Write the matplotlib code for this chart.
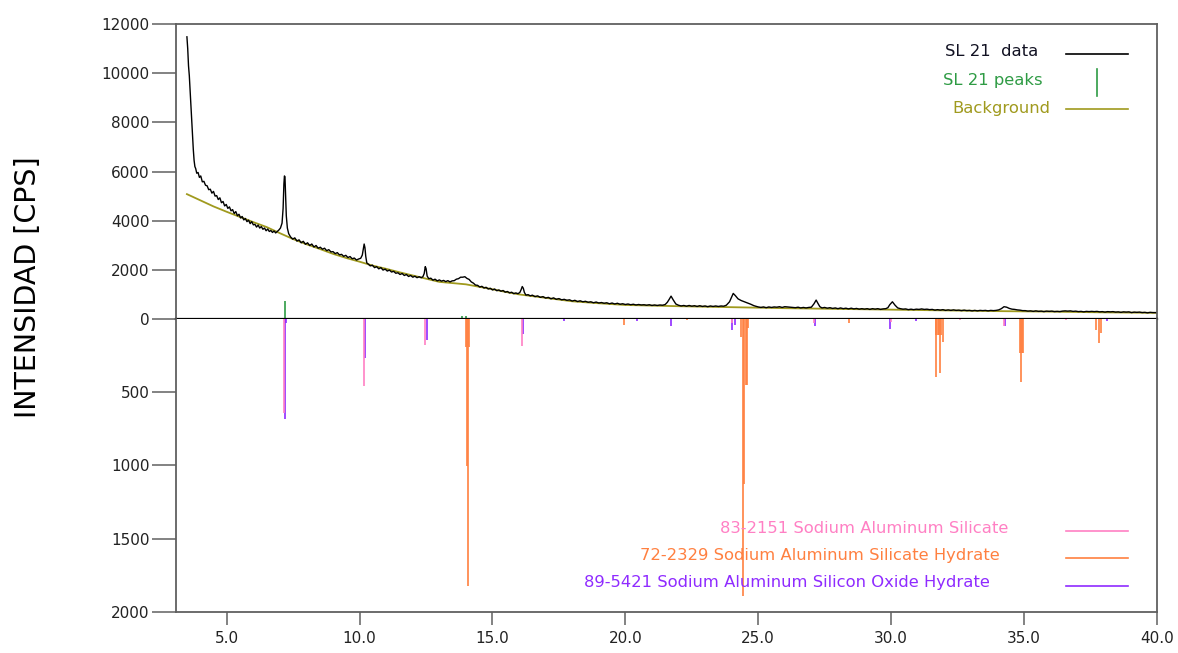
import matplotlib
matplotlib.use('Agg')
import matplotlib.pyplot as plt
from matplotlib.ticker import FormatStrFormatter

# measured scan of sample SL 21 (2-theta, counts)
two_theta = [
    3.50, 3.53, 3.56, 3.59, 3.62, 3.65, 3.68, 3.71, 3.74, 3.77,
    3.80, 3.83, 3.87, 3.92, 3.97, 4.02, 4.08, 4.14, 4.20, 4.26,
    4.32, 4.38, 4.44, 4.50, 4.56, 4.62, 4.68, 4.74, 4.80, 4.86,
    4.92, 4.98, 5.04, 5.10, 5.16, 5.22, 5.28, 5.34, 5.40, 5.46,
    5.52, 5.58, 5.64, 5.70, 5.76, 5.82, 5.88, 5.94, 6.00, 6.06,
    6.12, 6.18, 6.24, 6.30, 6.36, 6.42, 6.48, 6.54, 6.60, 6.66,
    6.72, 6.78, 6.84, 6.90, 6.96, 7.02, 7.08, 7.12, 7.15, 7.17,
    7.19, 7.21, 7.24, 7.28, 7.33, 7.40, 7.48, 7.56, 7.64, 7.72,
    7.80, 7.88, 7.96, 8.04, 8.12, 8.20, 8.28, 8.36, 8.44, 8.52,
    8.60, 8.68, 8.76, 8.84, 8.92, 9.00, 9.08, 9.16, 9.24, 9.32,
    9.40, 9.48, 9.56, 9.64, 9.72, 9.80, 9.88, 9.96, 10.04, 10.10,
    10.14, 10.17, 10.20, 10.23, 10.27, 10.32, 10.40, 10.48, 10.56, 10.64,
    10.72, 10.80, 10.88, 10.96, 11.04, 11.12, 11.20, 11.28, 11.36, 11.44,
    11.52, 11.60, 11.68, 11.76, 11.84, 11.92, 12.00, 12.08, 12.16, 12.24,
    12.32, 12.38, 12.43, 12.47, 12.50, 12.54, 12.60, 12.68, 12.76, 12.84,
    12.92, 13.00, 13.08, 13.16, 13.24, 13.32, 13.40, 13.48, 13.56, 13.64,
    13.72, 13.80, 13.88, 13.96, 14.04, 14.12, 14.20, 14.28, 14.36, 14.44,
    14.52, 14.60, 14.68, 14.76, 14.84, 14.92, 15.00, 15.08, 15.16, 15.24,
    15.32, 15.40, 15.48, 15.56, 15.64, 15.72, 15.80, 15.88, 15.96, 16.03,
    16.08, 16.12, 16.16, 16.20, 16.26, 16.34, 16.42, 16.50, 16.60, 16.70,
    16.80, 16.90, 17.00, 17.10, 17.20, 17.30, 17.40, 17.50, 17.60, 17.70,
    17.80, 17.90, 18.00, 18.10, 18.20, 18.30, 18.40, 18.50, 18.60, 18.70,
    18.80, 18.90, 19.00, 19.10, 19.20, 19.30, 19.40, 19.50, 19.60, 19.70,
    19.80, 19.90, 20.00, 20.10, 20.20, 20.30, 20.40, 20.50, 20.60, 20.70,
    20.80, 20.90, 21.00, 21.10, 21.20, 21.30, 21.40, 21.50, 21.58, 21.65,
    21.72, 21.80, 21.90, 22.00, 22.10, 22.20, 22.30, 22.40, 22.50, 22.60,
    22.70, 22.80, 22.90, 23.00, 23.10, 23.20, 23.30, 23.40, 23.50, 23.60,
    23.70, 23.80, 23.92, 24.00, 24.06, 24.14, 24.24, 24.36, 24.48, 24.60,
    24.72, 24.84, 25.00, 25.10, 25.20, 25.30, 25.40, 25.50, 25.60, 25.70,
    25.80, 25.90, 26.00, 26.10, 26.20, 26.30, 26.40, 26.50, 26.60, 26.70,
    26.80, 26.90, 27.00, 27.10, 27.18, 27.24, 27.32, 27.40, 27.50, 27.60,
    27.70, 27.80, 27.90, 28.00, 28.10, 28.20, 28.30, 28.40, 28.50, 28.60,
    28.70, 28.80, 28.90, 29.00, 29.10, 29.20, 29.30, 29.40, 29.50, 29.60,
    29.70, 29.80, 29.88, 29.95, 30.05, 30.15, 30.25, 30.35, 30.45, 30.55,
    30.65, 30.75, 30.85, 30.95, 31.05, 31.15, 31.25, 31.35, 31.45, 31.55,
    31.65, 31.75, 31.85, 31.95, 32.05, 32.15, 32.25, 32.35, 32.45, 32.55,
    32.65, 32.75, 32.85, 32.95, 33.05, 33.15, 33.25, 33.35, 33.45, 33.55,
    33.65, 33.75, 33.85, 33.95, 34.05, 34.15, 34.25, 34.35, 34.45, 34.55,
    34.65, 34.75, 34.85, 34.95, 35.05, 35.15, 35.25, 35.35, 35.45, 35.55,
    35.65, 35.75, 35.85, 35.95, 36.05, 36.15, 36.25, 36.35, 36.45, 36.55,
    36.65, 36.75, 36.85, 36.95, 37.05, 37.15, 37.25, 37.35, 37.45, 37.55,
    37.65, 37.75, 37.85, 37.95, 38.05, 38.15, 38.25, 38.35, 38.45, 38.55,
    38.65, 38.75, 38.85, 38.95, 39.05, 39.15, 39.25, 39.35, 39.45, 39.55,
    39.65, 39.75, 39.85, 40.00,
]
counts = [
    11480, 11000, 10300, 9900, 9300, 8650, 8100, 7500, 6900, 6450,
    6200, 6120, 5930, 5960, 5760, 5820, 5580, 5600, 5440, 5420,
    5260, 5280, 5120, 5190, 5000, 5020, 4860, 4930, 4730, 4780,
    4600, 4660, 4500, 4560, 4400, 4450, 4290, 4370, 4200, 4260,
    4110, 4170, 4030, 4090, 3960, 4020, 3880, 3960, 3830, 3850,
    3740, 3820, 3700, 3760, 3650, 3700, 3590, 3660, 3560, 3600,
    3520, 3580, 3500, 3560, 3620, 3700, 3900, 4500, 5500, 5820,
    5780, 5100, 4200, 3700, 3470, 3340, 3250, 3300, 3170, 3220,
    3100, 3160, 3040, 3100, 2990, 3050, 2930, 2990, 2880, 2920,
    2840, 2880, 2780, 2820, 2730, 2740, 2660, 2700, 2610, 2630,
    2550, 2590, 2500, 2540, 2450, 2480, 2400, 2440, 2470, 2600,
    2850, 3050, 2900, 2550, 2280, 2240, 2160, 2190, 2090, 2130,
    2040, 2090, 1990, 2030, 1950, 1990, 1910, 1940, 1860, 1880,
    1810, 1850, 1770, 1810, 1730, 1770, 1700, 1740, 1680, 1720,
    1680, 1720, 1850, 2130, 2050, 1750, 1640, 1660, 1580, 1620,
    1550, 1590, 1540, 1570, 1520, 1560, 1510, 1550, 1560, 1620,
    1640, 1700, 1700, 1720, 1650, 1610, 1510, 1460, 1380, 1370,
    1300, 1330, 1260, 1290, 1220, 1250, 1180, 1220, 1150, 1180,
    1130, 1160, 1090, 1120, 1060, 1090, 1030, 1060, 1030, 1080,
    1200, 1320, 1250, 1080, 970, 990, 940, 970, 910, 940,
    880, 910, 850, 880, 820, 860, 800, 830, 780, 800,
    760, 780, 730, 760, 710, 740, 700, 720, 680, 700,
    660, 690, 650, 670, 640, 660, 620, 650, 610, 640,
    600, 620, 590, 610, 580, 600, 570, 590, 570, 580,
    560, 580, 550, 570, 550, 570, 560, 590, 680, 800,
    930, 780, 610, 560, 530, 550, 520, 550, 520, 540,
    510, 540, 510, 530, 500, 530, 510, 530, 510, 530,
    520, 560, 700, 900, 1040, 950, 820, 750, 700, 650,
    600, 540, 490, 470, 490, 460, 490, 470, 490, 480,
    500, 470, 500, 490, 480, 470, 460, 480, 450, 470,
    450, 470, 480, 620, 770, 650, 500, 450, 470, 440,
    460, 430, 450, 420, 450, 420, 440, 410, 440, 410,
    430, 400, 420, 400, 420, 390, 420, 400, 420, 390,
    410, 420, 460, 580, 700, 560, 450, 420, 400, 410,
    380, 400, 380, 400, 390, 410, 390, 400, 380, 390,
    360, 380, 360, 380, 350, 370, 350, 370, 350, 360,
    340, 360, 340, 350, 330, 350, 330, 350, 340, 350,
    330, 350, 340, 350, 370, 420, 500, 480, 430, 400,
    390, 370, 360, 340, 340, 320, 330, 310, 330, 310,
    320, 300, 320, 310, 320, 300, 310, 300, 320, 330,
    320, 330, 310, 320, 300, 310, 290, 310, 300, 310,
    300, 310, 290, 300, 280, 300, 290, 300, 280, 290,
    270, 290, 280, 290, 260, 280, 270, 280, 260, 270,
    250, 270, 260, 260,
]

# fitted background
bg_theta = [3.5, 4.0, 4.5, 5.0, 5.5, 6.0, 6.5, 7.0, 7.5, 8.0, 8.5, 9.0, 9.5,
            10.0, 10.5, 11.0, 11.5, 12.0, 12.5, 13.0, 13.5, 14.0, 14.5, 15.0,
            15.5, 16.0, 16.5, 17.0, 17.5, 18.0, 19.0, 20.0, 22.0, 24.0, 26.0,
            28.0, 30.0, 32.0, 34.0, 36.0, 38.0, 40.0]
bg_counts = [5080, 4830, 4580, 4360, 4150, 3940, 3740, 3490, 3250, 3040, 2850,
             2650, 2480, 2330, 2170, 2040, 1900, 1770, 1640, 1510, 1460, 1410,
             1310, 1210, 1100, 1000, 930, 860, 790, 720, 640, 570, 520, 480,
             440, 410, 380, 350, 320, 300, 270, 250]

# peaks found in SL 21
peak_theta = [7.20, 13.86, 14.00, 24.30]
peak_height = [720, 120, 120, 40]

# reference patterns (intensity drawn downwards)
pdf_2151_theta = [7.17, 10.16, 12.47, 16.11, 24.00, 27.10, 30.00, 32.60, 34.25, 36.60]
pdf_2151_int = [640, 460, 175, 185, 30, 25, 20, 10, 45, 10]

pdf_2329_theta = [14.01, 14.04, 14.07, 14.13, 19.94, 22.32, 24.37, 24.42, 24.45,
                  24.55, 24.58, 24.62, 28.42, 31.68, 31.70, 31.76, 31.80, 31.84,
                  31.89, 31.94, 34.86, 34.90, 34.94, 34.98, 37.71, 37.81, 37.90]
pdf_2329_int = [190, 1005, 1822, 190, 40, 10, 121, 1890, 1123,
                452, 452, 60, 25, 110, 395, 110, 110, 367,
                110, 155, 233, 430, 233, 233, 75, 167, 96]

pdf_5421_theta = [7.19, 7.24, 10.20, 12.53, 16.14, 17.68, 20.44, 21.72, 24.02,
                  24.12, 27.15, 29.97, 30.93, 34.28, 38.12]
pdf_5421_int = [685, 30, 265, 145, 100, 12, 15, 50, 75, 40, 45, 65, 12, 50, 15]

x_ticks = [5, 10, 15, 20, 25, 30, 35, 40]
top_ticks = [0, 2000, 4000, 6000, 8000, 10000, 12000]
bottom_ticks = [500, 1000, 1500, 2000]

c_data = 'black'
c_bg = '#a09a1e'
c_peak = '#2e9b44'
c_pink = '#ff80c4'
c_orange = '#ff8040'
c_purple = '#8f2bff'
frame = '#606060'

fig = plt.figure(figsize=(11.78, 6.53), dpi=100)
ax_top = fig.add_axes([0.1492, 0.5115, 0.8328, 0.4517])
ax_bot = fig.add_axes([0.1492, 0.0628, 0.8328, 0.4487], sharex=ax_top)

# upper panel: scan, background, peak marks
ax_top.plot(bg_theta, bg_counts, color=c_bg, lw=1.3)
ax_top.plot(two_theta, counts, color=c_data, lw=1.0)
ax_top.vlines(peak_theta, 0, peak_height, color=c_peak, lw=1.2)
ax_top.set_ylim(0, 12000)
ax_top.set_yticks(top_ticks)
ax_top.tick_params(axis='x', bottom=False, labelbottom=False)

# lower panel: reference sticks
ax_bot.vlines(pdf_2329_theta, 0, pdf_2329_int, color=c_orange, lw=1.2)
ax_bot.vlines(pdf_5421_theta, 0, pdf_5421_int, color=c_purple, lw=1.2)
ax_bot.vlines(pdf_2151_theta, 0, pdf_2151_int, color=c_pink, lw=1.2)
ax_bot.set_ylim(2000, 0)
ax_bot.set_yticks(bottom_ticks)
ax_bot.set_xlim(3.08, 40)
ax_bot.set_xticks(x_ticks)
ax_bot.xaxis.set_major_formatter(FormatStrFormatter('%.1f'))

for ax in (ax_top, ax_bot):
    for s in ax.spines.values():
        s.set_color(frame)
        s.set_linewidth(1.3)
    ax.tick_params(axis='y', direction='out', length=17, width=1.1,
                   color=frame, pad=2, labelsize=11, labelcolor='#222222')
ax_top.spines['bottom'].set_color('black')
ax_top.spines['bottom'].set_linewidth(1.6)
ax_bot.spines['top'].set_visible(False)
ax_bot.tick_params(axis='x', direction='out', length=9, width=1.1,
                   color=frame, pad=5, labelsize=11, labelcolor='#222222')

fig.text(0.024, 0.56, 'INTENSIDAD [CPS]', rotation=90, fontsize=20.5,
         ha='center', va='center', color='black')

# key, upper panel
tr = ax_top.transAxes
ax_top.text(0.879, 0.906, 'SL 21  data', transform=tr, ha='right', va='center',
            fontsize=11.8, color='#111122')
ax_top.plot([0.9076, 0.9708], [0.898, 0.898], transform=tr, color=c_data, lw=1.2)
ax_top.text(0.8838, 0.810, 'SL 21 peaks', transform=tr, ha='right', va='center',
            fontsize=11.8, color=c_peak)
ax_top.plot([0.9388, 0.9388], [0.756, 0.847], transform=tr, color=c_peak, lw=1.2)
ax_top.text(0.8912, 0.714, 'Background', transform=tr, ha='right', va='center',
            fontsize=11.8, color=c_bg)
ax_top.plot([0.9076, 0.9708], [0.712, 0.712], transform=tr, color=c_bg, lw=1.2)

# key, lower panel
tr = ax_bot.transAxes
keys = [('83-2151 Sodium Aluminum Silicate', c_pink, 0.8487, 0.2857, 0.2765),
        ('72-2329 Sodium Aluminum Silicate Hydrate', c_orange, 0.8396, 0.1922, 0.1833),
        ('89-5421 Sodium Aluminum Silicon Oxide Hydrate', c_purple, 0.830, 0.100, 0.0898)]
for label, col, xr, yt, yl in keys:
    ax_bot.text(xr, yt, label, transform=tr, ha='right', va='center',
                fontsize=11.8, color=col)
    ax_bot.plot([0.9076, 0.9708], [yl, yl], transform=tr, color=col, lw=1.2)

fig.savefig('out.png', dpi=100)
